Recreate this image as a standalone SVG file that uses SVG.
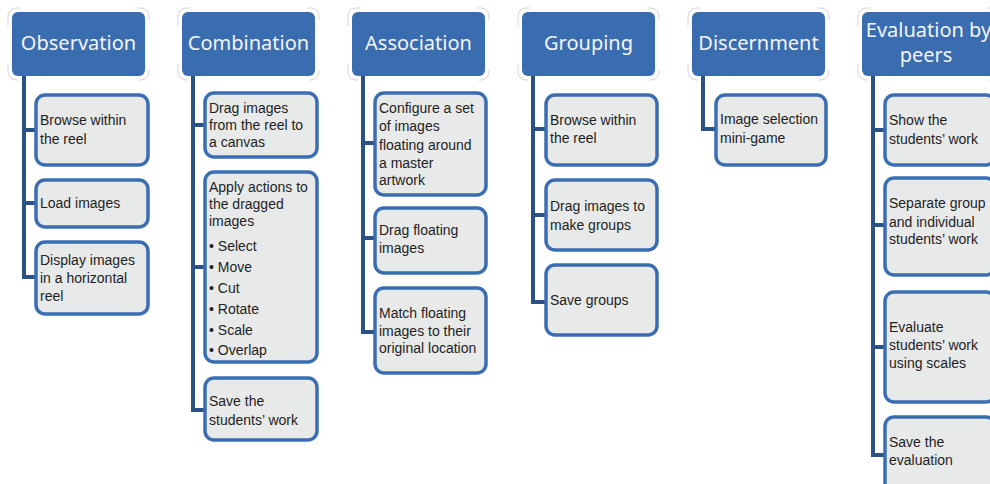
<svg xmlns="http://www.w3.org/2000/svg" xmlns:xlink="http://www.w3.org/1999/xlink" width="990" height="484" viewBox="0 0 990 484">
<style>
.hdr{fill:#3a6cb0;}
.hdrtxt{font-family:"Noto Sans","Open Sans","DejaVu Sans",sans-serif;font-size:20px;fill:#f2f5fa;text-anchor:middle;}
.box{fill:#e8e9e9;stroke:#3b6db3;stroke-width:3.5;}
.txt{font-family:"Liberation Sans",Arial,sans-serif;font-size:14px;fill:#1e1e1e;}
.conn{fill:none;stroke:#2b5286;stroke-width:4;}
.corner{fill:none;stroke:#d4d4d4;stroke-width:1;}
</style>
<defs>
<path id="corners" d="M-4 14 V4 A8 8 0 0 1 4 -4 H8 M125 -4 H129 A8 8 0 0 1 137 4 V8 M137 58 V60 A8 8 0 0 1 129 68 H127 M6 68 H4 A8 8 0 0 1 -4 60 V52"/>
</defs>
<rect width="990" height="484" fill="#ffffff"/>
<g id="connectors">
<path class="conn" d="M24 76 V277 H36 M24 130 H36 M24 203 H36"/>
<path class="conn" d="M193 76 V410 H205 M193 125 H205 M193 267 H205"/>
<path class="conn" d="M363 76 V332 H375 M363 143 H375 M363 238 H375"/>
<path class="conn" d="M533 76 V302 H546 M533 129 H546 M533 215 H546"/>
<path class="conn" d="M703 76 V129 H716"/>
<path class="conn" d="M873 76 V455 H885 M873 130 H885 M873 225 H885 M873 347 H885"/>
</g>
<g id="observation">
<use xlink:href="#corners" href="#corners" class="corner" x="12" y="12"/>
<rect class="hdr" x="12" y="12" width="133" height="64" rx="6"/>
<text class="hdrtxt" x="78.5" y="50">Observation</text>
</g>
<g id="obs-browse">
<rect class="box" x="36" y="95" width="112" height="70" rx="9"/>
<text class="txt" x="40" y="125">Browse within</text>
<text class="txt" x="40" y="144">the reel</text>
</g>
<g id="obs-load">
<rect class="box" x="36" y="180" width="112" height="47" rx="9"/>
<text class="txt" x="40" y="208">Load images</text>
</g>
<g id="obs-display">
<rect class="box" x="36" y="242" width="112" height="72" rx="9"/>
<text class="txt" x="40" y="265">Display images</text>
<text class="txt" x="40" y="283">in a horizontal</text>
<text class="txt" x="40" y="301">reel</text>
</g>
<g id="combination">
<use xlink:href="#corners" href="#corners" class="corner" x="182" y="12"/>
<rect class="hdr" x="182" y="12" width="133" height="64" rx="6"/>
<text class="hdrtxt" x="248.5" y="50">Combination</text>
</g>
<g id="comb-drag">
<rect class="box" x="205" y="93" width="112" height="64" rx="9"/>
<text class="txt" x="209" y="113">Drag images</text>
<text class="txt" x="209" y="130">from the reel to</text>
<text class="txt" x="209" y="147">a canvas</text>
</g>
<g id="comb-apply">
<rect class="box" x="205" y="172" width="112" height="190" rx="9"/>
<text class="txt" x="209" y="192">Apply actions to</text>
<text class="txt" x="209" y="209">the dragged</text>
<text class="txt" x="209" y="226">images</text>
<text class="txt" x="209" y="251">• Select</text>
<text class="txt" x="209" y="272">• Move</text>
<text class="txt" x="209" y="293">• Cut</text>
<text class="txt" x="209" y="314">• Rotate</text>
<text class="txt" x="209" y="335">• Scale</text>
<text class="txt" x="209" y="355">• Overlap</text>
</g>
<g id="comb-save">
<rect class="box" x="205" y="378" width="112" height="62" rx="9"/>
<text class="txt" x="209" y="406">Save the</text>
<text class="txt" x="209" y="425">students’ work</text>
</g>
<g id="association">
<use xlink:href="#corners" href="#corners" class="corner" x="352" y="12"/>
<rect class="hdr" x="352" y="12" width="133" height="64" rx="6"/>
<text class="hdrtxt" x="418.5" y="50">Association</text>
</g>
<g id="assoc-configure">
<rect class="box" x="375" y="93" width="111" height="102" rx="9"/>
<text class="txt" x="379" y="113">Configure a set</text>
<text class="txt" x="379" y="131">of images</text>
<text class="txt" x="379" y="150">floating around</text>
<text class="txt" x="379" y="168">a master</text>
<text class="txt" x="379" y="185">artwork</text>
</g>
<g id="assoc-drag">
<rect class="box" x="375" y="208" width="111" height="65" rx="9"/>
<text class="txt" x="379" y="235">Drag floating</text>
<text class="txt" x="379" y="253">images</text>
</g>
<g id="assoc-match">
<rect class="box" x="375" y="288" width="111" height="85" rx="9"/>
<text class="txt" x="379" y="318">Match floating</text>
<text class="txt" x="379" y="336">images to their</text>
<text class="txt" x="379" y="353">original location</text>
</g>
<g id="grouping">
<use xlink:href="#corners" href="#corners" class="corner" x="522" y="12"/>
<rect class="hdr" x="522" y="12" width="133" height="64" rx="6"/>
<text class="hdrtxt" x="588.5" y="50">Grouping</text>
</g>
<g id="grp-browse">
<rect class="box" x="546" y="95" width="111" height="70" rx="9"/>
<text class="txt" x="550" y="125">Browse within</text>
<text class="txt" x="550" y="143">the reel</text>
</g>
<g id="grp-drag">
<rect class="box" x="546" y="180" width="111" height="70" rx="9"/>
<text class="txt" x="550" y="211">Drag images to</text>
<text class="txt" x="550" y="230">make groups</text>
</g>
<g id="grp-save">
<rect class="box" x="546" y="265" width="111" height="70" rx="9"/>
<text class="txt" x="550" y="305">Save groups</text>
</g>
<g id="discernment">
<use xlink:href="#corners" href="#corners" class="corner" x="692" y="12"/>
<rect class="hdr" x="692" y="12" width="133" height="64" rx="6"/>
<text class="hdrtxt" x="758.5" y="50">Discernment</text>
</g>
<g id="disc-image">
<rect class="box" x="716" y="95" width="110" height="70" rx="9"/>
<text class="txt" x="720" y="124">Image selection</text>
<text class="txt" x="720" y="143">mini-game</text>
</g>
<g id="evaluation">
<use xlink:href="#corners" href="#corners" class="corner" x="862" y="12"/>
<rect class="hdr" x="862" y="12" width="133" height="64" rx="6"/>
<text class="hdrtxt" x="928.5" y="37">Evaluation by</text>
<text class="hdrtxt" x="926" y="62">peers</text>
</g>
<g id="eval-show">
<rect class="box" x="885" y="95" width="110" height="70" rx="9"/>
<text class="txt" x="889" y="125">Show the</text>
<text class="txt" x="889" y="144">students’ work</text>
</g>
<g id="eval-separate">
<rect class="box" x="885" y="178" width="110" height="97" rx="9"/>
<text class="txt" x="889" y="208">Separate group</text>
<text class="txt" x="889" y="227">and individual</text>
<text class="txt" x="889" y="244">students’ work</text>
</g>
<g id="eval-evaluate">
<rect class="box" x="885" y="292" width="110" height="110" rx="9"/>
<text class="txt" x="889" y="332">Evaluate</text>
<text class="txt" x="889" y="350">students’ work</text>
<text class="txt" x="889" y="368">using scales</text>
</g>
<g id="eval-save">
<rect class="box" x="885" y="417" width="110" height="80" rx="9"/>
<text class="txt" x="889" y="447">Save the</text>
<text class="txt" x="889" y="465">evaluation</text>
</g>
</svg>
